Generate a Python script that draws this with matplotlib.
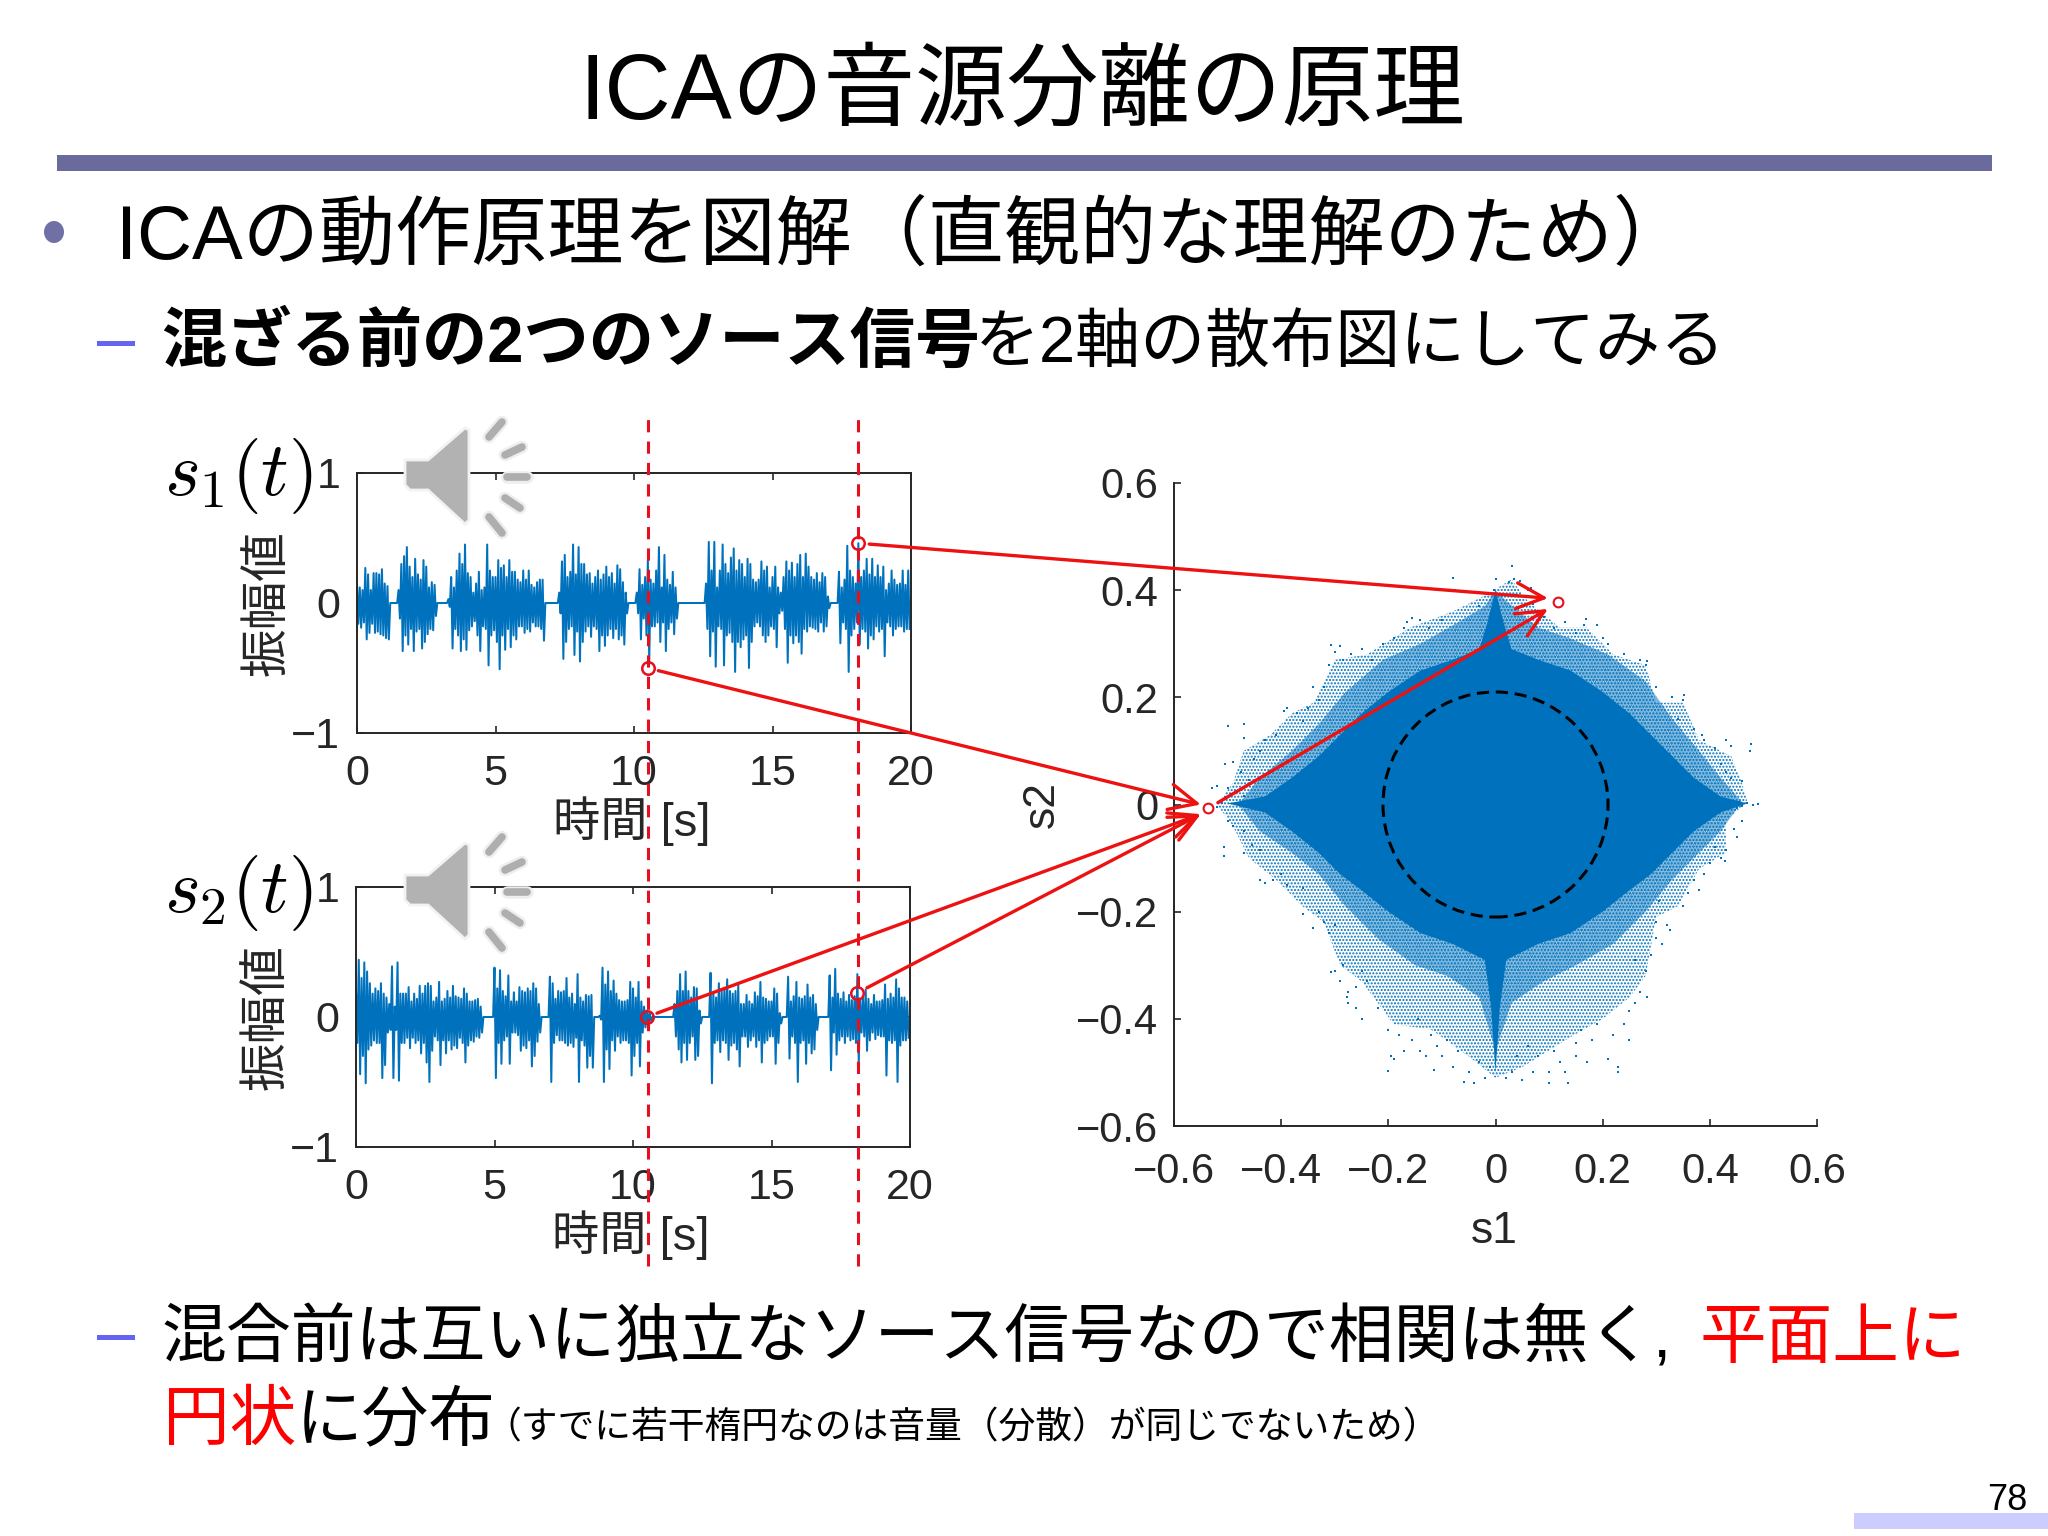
import numpy as np
import matplotlib
matplotlib.use("Agg")
import matplotlib.pyplot as plt
from matplotlib.patches import Circle, ConnectionPatch, Polygon, Rectangle, Ellipse

plt.rcParams['font.family'] = ['Liberation Sans', 'Noto Sans CJK JP']
plt.rcParams['mathtext.fontset'] = 'cm'
plt.rcParams['hatch.linewidth'] = 1.0

BLUE = '#0072BD'
AX_GRAY = '#262626'

# waveform envelopes, one value every 0.1 s
dt = 0.1
s1_hi = [.15,.12,.10,.27,.22,.10,.23,.23,.22,.26,
         .15,.13,0,0,0,.10,.30,.36,.43,.28,
         .20,.34,.22,.18,.33,.28,.12,.16,.14,0,
         0,0,0,.03,.20,.12,.25,.38,.30,.45,
         .23,.20,.08,.15,.24,.10,.12,.45,.25,.20,
         .20,.33,.27,.29,.20,.33,.24,.24,.18,.16,
         .25,.18,.25,.14,.12,.16,.18,.18,0,0,
         0,0,0,.08,.32,.37,.20,.24,.45,.22,
         .43,.30,.30,.22,.23,.15,.20,.25,.18,.22,
         .28,.20,.23,.15,.29,.26,.16,.08,0,0,
         0,.08,.26,.14,.20,.33,.18,.15,.25,.43,
         .12,.37,.18,.14,.24,.12,0,0,0,0,
         0,0,0,0,0,0,.15,.47,.25,.47,
         .12,.25,.45,.30,.23,.35,.42,.25,.33,.30,
         .20,.34,.30,.18,.16,.18,.32,.25,.28,.12,
         .20,.28,.12,.08,.20,.32,.25,.31,.20,.30,
         .37,.20,.38,.28,.20,.18,.23,.16,.23,.20,
         .05,0,0,0,.24,.12,.18,.44,.25,.20,
         .15,.46,.20,.25,.34,.22,.34,.20,.29,.20,
         .28,.10,.15,.25,.18,.14,.15,.25,.14,.25]
s1_lo = [-.16,-.19,-.15,-.28,-.23,-.16,-.23,-.22,-.24,-.25,
         -.27,-.28,0,0,0,-.12,-.37,-.25,-.32,-.20,
         -.37,-.22,-.20,-.35,-.30,-.24,-.20,-.21,-.10,0,
         0,0,0,-.03,-.35,-.20,-.25,-.37,-.28,-.36,
         -.21,-.18,-.14,-.25,-.37,-.18,-.20,-.48,-.25,-.21,
         -.30,-.51,-.25,-.36,-.20,-.34,-.25,-.28,-.18,-.18,
         -.23,-.20,-.22,-.15,-.18,-.18,-.20,-.29,0,0,
         0,0,0,-.08,-.43,-.30,-.20,-.18,-.40,-.22,
         -.45,-.30,-.22,-.18,-.26,-.18,-.20,-.37,-.25,-.33,
         -.25,-.20,-.27,-.20,-.28,-.25,-.32,-.08,0,0,
         0,-.08,-.28,-.12,-.25,-.45,-.18,-.18,-.15,-.30,
         -.15,-.37,-.20,-.15,-.24,-.12,0,0,0,0,
         0,0,0,0,0,0,-.20,-.41,-.22,-.49,
         -.18,-.20,-.48,-.25,-.23,-.30,-.53,-.30,-.34,-.28,
         -.25,-.50,-.30,-.18,-.15,-.18,-.25,-.30,-.25,-.18,
         -.20,-.34,-.08,-.06,-.20,-.46,-.25,-.31,-.25,-.30,
         -.39,-.20,-.22,-.18,-.19,-.20,-.22,-.15,-.22,-.18,
         -.04,0,0,0,-.31,-.15,-.20,-.53,-.25,-.20,
         -.15,-.32,-.20,-.22,-.35,-.25,-.28,-.18,-.22,-.20,
         -.41,-.15,-.18,-.25,-.20,-.18,-.18,-.22,-.20,-.20]
s2_hi = [.20,.44,.30,.42,.35,.26,.18,.22,.20,.26,
         .18,.15,.10,.39,.08,.42,.18,.18,.18,.23,
         .12,.18,.14,.24,.18,.24,.26,.24,.12,.15,
         .27,.12,.14,.20,.15,.24,.16,.15,.14,.22,
         .18,.12,.12,.13,.14,.08,0,0,0,0,
         .38,.22,.36,.20,.16,.32,.12,.19,.12,.23,
         .20,.19,.22,.20,.26,.22,.10,0,0,0,
         .31,.26,.14,.20,.19,.20,.30,.15,.18,.10,
         .33,.15,.12,.17,.16,.17,0,0,.01,.38,
         .25,.35,.20,.28,.18,.13,.12,.12,.13,.27,
         .22,.15,.27,.12,.08,.05,.04,0,0,0,
         0,0,0,0,0,.10,.20,.33,.20,.35,
         .20,.15,.23,.22,.05,0,0,0,.34,.18,
         .15,.26,.20,.22,.29,.20,.18,.20,.25,.10,
         .10,.17,.12,.10,.19,.16,.27,.15,.14,.12,
         .12,.22,.18,.03,0,0,.31,.12,.16,.27,
         .15,.14,.16,.25,.15,.17,.10,0,0,0,
         0,.32,.15,.37,.18,.14,.19,.12,.17,.13,
         .16,.33,.14,.15,.21,.14,.10,.17,.12,.12,
         .13,.25,.14,.18,.15,.29,.22,.15,.15,.12]
s2_lo = [-.20,-.44,-.30,-.51,-.25,-.22,-.18,-.20,-.20,-.47,
         -.37,-.12,-.10,-.47,-.10,-.49,-.20,-.20,-.16,-.24,
         -.16,-.20,-.18,-.28,-.20,-.35,-.50,-.26,-.15,-.18,
         -.37,-.18,-.28,-.18,-.25,-.22,-.24,-.16,-.20,-.35,
         -.22,-.18,-.19,-.15,-.16,-.12,0,0,0,0,
         -.47,-.20,-.36,-.18,-.15,-.36,-.12,-.12,-.14,-.26,
         -.22,-.24,-.18,-.38,-.30,-.19,-.12,0,0,0,
         -.50,-.20,-.14,-.18,-.18,-.20,-.22,-.20,-.23,-.16,
         -.50,-.18,-.22,-.39,-.30,-.39,0,0,-.02,-.50,
         -.25,-.40,-.18,-.26,-.15,-.20,-.18,-.18,-.20,-.45,
         -.30,-.20,-.38,-.12,-.08,-.05,-.03,0,0,0,
         0,0,0,0,0,-.15,-.25,-.35,-.20,-.33,
         -.20,-.15,-.33,-.30,-.05,0,0,0,-.51,-.20,
         -.18,-.27,-.18,-.20,-.33,-.22,-.20,-.25,-.38,-.15,
         -.15,-.23,-.18,-.15,-.23,-.18,-.35,-.20,-.18,-.15,
         -.15,-.36,-.20,-.05,0,0,-.32,-.15,-.20,-.50,
         -.20,-.18,-.36,-.20,-.28,-.25,-.10,0,0,0,
         0,-.41,-.12,-.29,-.18,-.15,-.20,-.15,-.18,-.17,
         -.20,-.35,-.12,-.15,-.26,-.18,-.12,-.17,-.14,-.15,
         -.15,-.45,-.18,-.20,-.18,-.50,-.22,-.18,-.18,-.16]

t_ticks = [0, 5, 10, 15, 20]
t_labels = ['0', '5', '10', '15', '20']
amp_ticks = [-1, 0, 1]
amp_labels = ['\u22121', '0', '1']
s_ticks = [-0.6, -0.4, -0.2, 0, 0.2, 0.4, 0.6]
s_labels = ['\u22120.6', '\u22120.4', '\u22120.2', '0', '0.2', '0.4', '0.6']

# picked instants and the values read there
pick_t = [10.49, 18.09]
pick_s1 = [-0.50, 0.46]
pick_s2 = [0.0, 0.185]
point_left = (-0.536, -0.007)
point_top = (0.116, 0.377)
circle_r = 0.21

# scatter: solid core outline, then a dense and a sparse band around it
core = [(.47,.002),(.42,.015),(.37,.05),(.33,.09),(.29,.13),(.25,.17),(.20,.21),(.14,.25),(.08,.27),(.03,.29),(.015,.34),
        (0,.40),(-.015,.34),(-.03,.29),(-.08,.27),(-.14,.25),(-.20,.21),(-.25,.17),(-.29,.13),(-.33,.09),(-.38,.05),(-.43,.015),
        (-.50,.002),(-.43,-.015),(-.38,-.05),(-.33,-.09),(-.29,-.13),(-.25,-.16),(-.20,-.20),(-.14,-.24),(-.08,-.26),(-.02,-.29),
        (-.008,-.38),(0,-.50),(.008,-.38),(.02,-.29),(.08,-.26),(.14,-.24),(.20,-.20),(.25,-.16),(.29,-.13),(.33,-.09),(.37,-.05),(.42,-.015)]
mid = [(.02,.38),(.08,.33),(.14,.31),(.21,.28),(.28,.23),(.33,.16),(.38,.10),(.42,.05),(.46,.005),(.42,-.05),(.38,-.09),(.33,-.14),
       (.28,-.20),(.22,-.26),(.15,-.30),(.09,-.33),(.03,-.37),(0,-.46),(-.03,-.36),(-.09,-.32),(-.15,-.30),(-.22,-.25),(-.28,-.19),
       (-.33,-.13),(-.38,-.09),(-.44,-.05),(-.48,0),(-.44,.05),(-.38,.10),(-.33,.15),(-.28,.21),(-.21,.27),(-.14,.30),(-.07,.34),(-.02,.37),(0,.40)]
band = [(.03,.42),(.06,.38),(.12,.33),(.17,.33),(.22,.28),(.28,.26),(.30,.19),(.35,.19),(.38,.12),(.44,.09),(.46,.04),(.47,.005),
        (.43,-.03),(.43,-.09),(.38,-.12),(.34,-.19),(.30,-.21),(.28,-.32),(.25,-.36),(.20,-.40),(.13,-.44),(.05,-.49),(0,-.51),(-.05,-.47),
        (-.12,-.42),(-.19,-.41),(-.25,-.33),(-.29,-.30),(-.32,-.22),(-.36,-.19),(-.41,-.14),(-.46,-.10),(-.49,-.04),(-.52,0),(-.49,.04),
        (-.47,.10),(-.42,.13),(-.38,.17),(-.34,.19),(-.30,.27),(-.24,.28),(-.16,.33),(-.08,.36),(-.02,.39)]
dots = [(.03,.445),(.035,.42),(.025,.415),(.045,.418),(0,.42),(-.002,.40),(.04,.39),(.06,.40),(-.08,.422),(-.075,.40),
        (-.02,.395),(-.03,.37),(.07,.375),(.09,.35),(-.155,.348),(-.14,.345),(-.165,.34),(-.17,.33),(-.125,.33),(-.10,.345),
        (-.19,.31),(-.21,.30),(-.307,.297),(-.30,.285),(-.29,.296),(-.285,.27),(-.31,.26),(-.27,.28),(-.25,.29),(-.23,.27),
        (-.32,.22),(-.34,.22),(-.33,.195),(-.35,.18),(-.39,.18),(-.395,.175),(-.37,.17),(-.36,.155),(-.41,.13),(-.43,.12),
        (-.50,.146),(-.47,.15),(-.47,.125),(-.44,.10),(-.45,.085),(-.49,.08),(-.505,.075),(-.475,.06),(-.46,.045),(-.53,.03),
        (-.52,.035),(-.50,.03),(-.49,.02),(-.47,.015),(-.51,.002),(-.52,-.005),(-.50,-.03),(-.49,-.04),(-.47,-.05),(-.507,-.097),
        (-.507,-.08),(-.47,-.09),(-.455,-.075),(-.44,-.085),(-.43,-.146),(-.44,-.14),(-.415,-.14),(-.40,-.13),(-.39,-.15),(-.36,-.155),
        (-.36,-.205),(-.33,-.20),(-.32,-.22),(-.31,-.24),(-.30,-.225),(-.307,-.312),(-.30,-.31),(-.285,-.30),(-.275,-.37),(-.277,-.36),
        (-.275,-.35),(-.26,-.34),(-.25,-.31),(-.24,-.33),(-.20,-.497),(-.195,-.47),(-.19,-.475),(-.20,-.42),(-.155,-.44),(-.145,-.40),
        (-.12,-.43),(-.115,-.495),(-.10,-.47),(-.09,-.44),(-.058,-.517),(-.05,-.50),(-.04,-.52),(-.03,-.48),(-.02,-.51),(.02,-.51),
        (.03,-.50),(.04,-.47),(.05,-.515),(.06,-.45),(.10,-.52),(.10,-.50),(.136,-.52),(.13,-.50),(.12,-.48),(.15,-.445),
        (.16,-.42),(.21,-.475),(.228,-.49),(.228,-.50),(.25,-.44),(.25,-.385),(.282,-.36),(.27,-.35),(.28,-.31),(.26,-.29),
        (.325,-.234),(.32,-.225),(.30,-.22),(.305,-.18),(.35,-.19),(.36,-.165),(.37,-.14),(.39,-.13),(.42,-.10),(.428,-.105),
        (.43,-.085),(.41,-.08),(.45,-.06),(.445,-.045),(.46,.044),(.44,.05),(.43,.06),(.42,.075),(.477,.112),(.475,.10),
        (.44,.11),(.43,.12),(.41,.105),(.39,.12),(.385,.13),(.37,.14),(.352,.205),(.35,.195),(.33,.20),(.34,.16),
        (.30,.22),(.282,.268),(.28,.26),(.27,.27),(.24,.28),(.21,.30),(.20,.31),(.169,.346),(.165,.335),(.15,.32),
        (.19,.335),(.13,.34),(.11,.33),(.066,.404),(.075,.36),(.48,0),(.47,.002),(.46,-.002),(.455,.005),(.45,-.006),
        (-.25,-.40),(-.22,-.38),(-.17,-.46),(-.14,-.46),(-.11,-.45),(-.08,-.49),(-.07,-.46),(-.01,-.49),(.07,-.50),(.08,-.47),
        (.15,-.47),(.18,-.44),(.19,-.41),(.22,-.43),(.24,-.41),(.26,-.37),(.29,-.28),(.31,-.26),(-.34,-.23),(-.29,-.33),
        (-.26,-.38),(-.18,-.43),(-.13,-.47),(.11,-.46),(.17,-.48),(.30,-.25),(.38,-.16),(.40,-.11),(.46,-.03),(.49,.001)]
dots_x = [d[0] for d in dots]
dots_y = [d[1] for d in dots]

fig = plt.figure(figsize=(20.48, 15.36), dpi=100, facecolor='white')
W, H = 2048.0, 1536.0


def add_axes_px(left, top, right, bottom, **kw):
    return fig.add_axes([left / W, 1 - bottom / H, (right - left) / W, (bottom - top) / H], **kw)


def wave_axes(box, hi, lo, zorder):
    ax = add_axes_px(*box, facecolor='none', zorder=zorder)
    t = np.arange(len(hi)) * dt
    tz = np.column_stack((t, t + dt / 2)).ravel()
    yz = np.column_stack((hi, lo)).ravel()
    ax.plot(tz, yz, color=BLUE, lw=1.45, solid_joinstyle='round')
    ax.set_xlim(0, 20)
    ax.set_ylim(-1, 1)
    ax.set_xticks(t_ticks, t_labels)
    ax.set_yticks(amp_ticks, amp_labels)
    ax.tick_params(direction='in', top=True, right=True, length=5, width=1.2,
                   color=AX_GRAY, labelcolor=AX_GRAY, labelsize=31)
    ax.tick_params(axis='x', pad=15)
    ax.tick_params(axis='y', pad=12)
    for sp in ax.spines.values():
        sp.set_linewidth(1.4)
        sp.set_color(AX_GRAY)
    ax.set_xlabel('時間 [s]', fontsize=34, color=AX_GRAY, va='center')
    ax.xaxis.set_label_coords(0.496, -0.338)
    ax.set_ylabel('振幅値', fontsize=35, color=AX_GRAY, va='center')
    ax.yaxis.set_label_coords(-0.16, 0.5)
    return ax


ax1 = wave_axes((357, 473, 911, 733), s1_hi, s1_lo, 3)
ax2 = wave_axes((356, 887, 910, 1147), s2_hi, s2_lo, 2)

# dashed guides run through both panels
for t0 in pick_t:
    ax1.axvline(t0, ymin=-2.05, ymax=1.21, color='#e41020', lw=2.2, ls=(0, (4, 3)), clip_on=False, zorder=6)

ax3 = add_axes_px(1174, 483, 1817, 1126, facecolor='none', zorder=1)
ax3.add_patch(Polygon(band, closed=True, facecolor='none', edgecolor=BLUE, hatch='.....', lw=0))
ax3.add_patch(Polygon(mid, closed=True, facecolor='none', edgecolor=BLUE, hatch='.........', lw=0))
ax3.add_patch(Polygon(core, closed=True, color=BLUE, lw=0))
ax3.scatter(dots_x, dots_y, s=4.5, marker='s', color=BLUE, linewidths=0)
ax3.add_patch(Circle((0, 0), circle_r, fill=False, edgecolor='black', lw=2.2, ls=(0, (4, 2.2))))
ax3.set_xlim(-0.6, 0.6)
ax3.set_ylim(-0.6, 0.6)
ax3.set_xticks(s_ticks, s_labels)
ax3.set_yticks(s_ticks, s_labels)
ax3.spines['top'].set_visible(False)
ax3.spines['right'].set_visible(False)
for sp in ('left', 'bottom'):
    ax3.spines[sp].set_linewidth(1.4)
    ax3.spines[sp].set_color(AX_GRAY)
ax3.tick_params(direction='in', length=5, width=1.2, color=AX_GRAY, labelcolor=AX_GRAY, labelsize=30)
ax3.tick_params(axis='x', pad=19)
ax3.tick_params(axis='y', pad=11.5)
ax3.set_xlabel('s1', fontsize=32, color=AX_GRAY, va='center')
ax3.xaxis.set_label_coords(0.498, -0.164)
ax3.set_ylabel('s2', fontsize=32, color=AX_GRAY, va='center')
ax3.yaxis.set_label_coords(-0.205, 0.5)

# markers on the picked samples
for k in range(2):
    ax1.plot(pick_t[k], pick_s1[k], 'o', ms=9, mfc='none', mec='#e41020', mew=1.8, clip_on=False, zorder=7)
    ax2.plot(pick_t[k], pick_s2[k], 'o', ms=9, mfc='none', mec='#e41020', mew=1.8, clip_on=False, zorder=7)
ax3.plot(*point_left, 'o', ms=7, mfc='none', mec='#e41020', mew=1.5, zorder=7)
ax3.plot(*point_top, 'o', ms=7, mfc='none', mec='#e41020', mew=1.5, zorder=7)

tip_left_a = (-0.55, 0.0)
tip_left_b = (-0.55, -0.018)
tip_top_a = (0.098, 0.385)
tip_top_b = (0.098, 0.365)
links = [(ax1, (pick_t[1], pick_s1[1]), tip_top_a),
         (ax1, (pick_t[0], pick_s1[0]), tip_left_a),
         (ax2, (pick_t[0], pick_s2[0]), tip_left_b),
         (ax2, (pick_t[1], pick_s2[1]), tip_left_b),
         (ax3, point_left, tip_top_b)]
for src, xy_a, xy_b in links:
    fig.add_artist(ConnectionPatch(xyA=xy_a, coordsA=src.transData, xyB=xy_b, coordsB=ax3.transData,
                                   arrowstyle='->,head_length=0.9,head_width=0.42', mutation_scale=22,
                                   color='#ee1111', lw=2.4, shrinkA=8, shrinkB=0, zorder=10))

# slide furniture drawn in pixel coordinates
page = fig.add_axes([0, 0, 1, 1], facecolor='none', zorder=20)
page.set_xlim(0, W)
page.set_ylim(H, 0)
page.axis('off')


def speaker(dy):
    body = [(405, 460), (428, 460), (465, 428), (469, 430), (469, 520), (465, 524), (428, 490), (410, 490), (405, 485)]
    page.add_patch(Polygon([(x, y + dy) for x, y in body], closed=True, facecolor='#b2b2b2', edgecolor='#f2f2f2', lw=2))
    waves = [((489, 437), (502, 422)), ((505, 455), (522, 447)), ((507, 477), (527, 477)),
             ((505, 498), (520, 508)), ((489, 517), (502, 533))]
    for a, b in waves:
        page.plot([a[0], b[0]], [a[1] + dy, b[1] + dy], color='#eeeeee', lw=9, solid_capstyle='round')
        page.plot([a[0], b[0]], [a[1] + dy, b[1] + dy], color='#aeaeae', lw=5.5, solid_capstyle='round')


speaker(0)
speaker(415)

page.add_patch(Rectangle((57, 155), 1935, 16, facecolor='#6a6a9c', edgecolor='none'))
page.add_patch(Ellipse((54, 232), 20, 22, facecolor='#7070a6', edgecolor='none'))
page.add_patch(Rectangle((97, 341), 38, 5, facecolor='#6464f0', edgecolor='none'))
page.add_patch(Rectangle((97, 1335), 38, 5, facecolor='#6464f0', edgecolor='none'))
page.add_patch(Rectangle((1854, 1513), 194, 16, facecolor='#ccccff', edgecolor='none'))

page.text(1022, 119, 'ICAの音源分離の原理', fontsize=66, ha='center', va='baseline', color='black')
page.text(116, 259, 'ICAの動作原理を図解（直観的な理解のため）', fontsize=54.8, va='baseline', color='black')
page.text(161, 362, '混ざる前の2つのソース信号', fontsize=47, fontweight='bold', va='baseline', color='black')
page.text(975, 362, 'を2軸の散布図にしてみる', fontsize=46.8, va='baseline', color='black')
page.text(162, 1358, '混合前は互いに独立なソース信号なので相関は無く,', fontsize=46.7, va='baseline', color='black')
page.text(1700, 1358, '平面上に', fontsize=48, va='baseline', color='#ff0000')
page.text(163, 1440, '円状', fontsize=48, va='baseline', color='#ff0000')
page.text(296, 1440, 'に分布', fontsize=48, va='baseline', color='black')
page.text(484, 1438, '（すでに若干楕円なのは音量（分散）が同じでないため）', fontsize=26.5, va='baseline', color='black')
page.text(2027, 1510, '78', fontsize=26, ha='right', va='baseline', color='black')
page.text(164, 495, '$s_1(t)$', fontsize=55, va='baseline', color='black')
page.text(164, 912, '$s_2(t)$', fontsize=55, va='baseline', color='black')

fig.savefig('out.png', dpi=100)
